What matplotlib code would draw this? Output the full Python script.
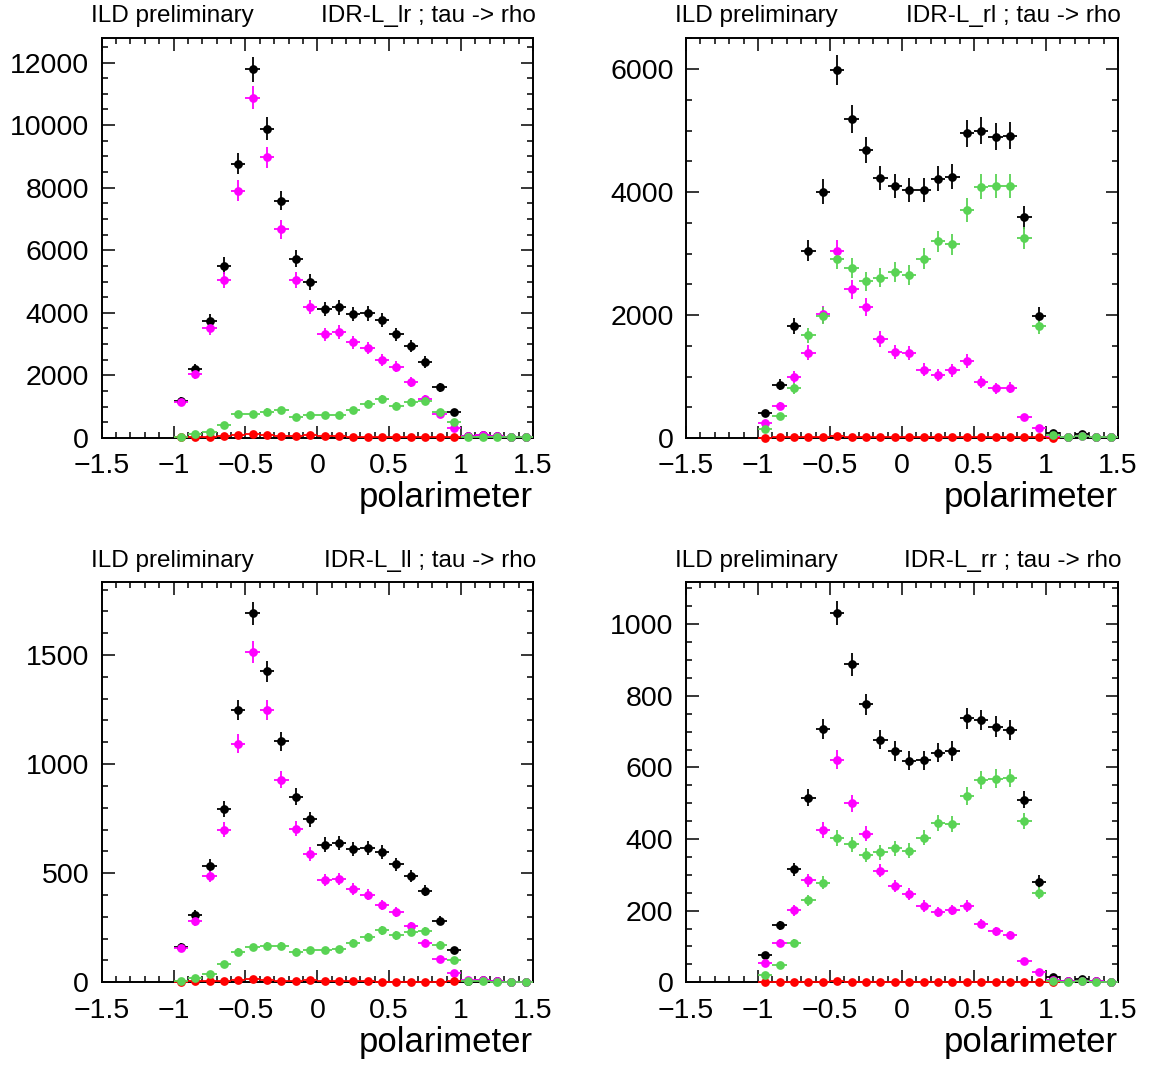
import numpy as np
import matplotlib
matplotlib.use('Agg')
import matplotlib.pyplot as plt
from matplotlib.ticker import MultipleLocator

plt.rcParams['font.family'] = ['Liberation Sans', 'DejaVu Sans']

# ---------------- data ----------------
bin_centers = [-0.95, -0.85, -0.75, -0.65, -0.55, -0.45, -0.35, -0.25, -0.15, -0.05,
               0.05, 0.15, 0.25, 0.35, 0.45, 0.55, 0.65, 0.75, 0.85, 0.95,
               1.05, 1.15, 1.25, 1.35, 1.45]
bin_half_width = 0.05

panel_names = ["IDR-L_lr ; tau -> rho", "IDR-L_rl ; tau -> rho",
               "IDR-L_ll ; tau -> rho", "IDR-L_rr ; tau -> rho"]

# total (black)
lr_total = [1190, 2210, 3740, 5510, 8770, 11780, 9890, 7590, 5730, 4980,
            4120, 4180, 3960, 3980, 3760, 3320, 2930, 2430, 1620, 830,
            50, 80, 50, 30, 20]
lr_magenta = [1150, 2060, 3510, 5040, 7910, 10880, 8970, 6670, 5040, 4190,
              3320, 3390, 3060, 2870, 2490, 2280, 1800, 1260, 780, 310,
              70, 100, 50, 30, 20]
lr_green = [40, 130, 190, 410, 770, 770, 840, 880, 680, 720,
            740, 720, 880, 1090, 1260, 1020, 1140, 1190, 820, 500,
            30, 30, 30, 20, 20]
lr_red = [20, 30, 30, 60, 100, 120, 110, 60, 50, 80,
          70, 70, 30, 30, 20, 20, 20, 20, 20, 30,
          0, 0, 0, 0, 0]

rl_total = [400, 870, 1820, 3050, 4010, 5990, 5190, 4690, 4230, 4100,
            4030, 4030, 4220, 4250, 4960, 5000, 4900, 4920, 3590, 1990,
            80, 20, 70, 10, 10]
rl_magenta = [245, 520, 1000, 1390, 2010, 3050, 2420, 2130, 1610, 1400,
              1380, 1110, 1030, 1100, 1250, 910, 810, 820, 340, 170,
              20, 20, 30, 10, 10]
rl_green = [150, 350, 810, 1670, 1990, 2910, 2760, 2550, 2610, 2700,
            2650, 2920, 3200, 3150, 3710, 4090, 4100, 4100, 3260, 1820,
            50, 20, 40, 10, 10]
rl_red = [5, 10, 10, 10, 10, 30, 10, 10, 10, 10,
          10, 10, 10, 10, 10, 10, 10, 10, 10, 10,
          5, 0, 0, 0, 0]

ll_total = [163, 310, 535, 793, 1248, 1691, 1425, 1104, 851, 747,
            631, 638, 609, 614, 597, 541, 487, 420, 283, 148,
            8, 11, 6, 3, 2]
ll_magenta = [156, 281, 489, 700, 1094, 1512, 1246, 929, 703, 587,
              469, 473, 426, 402, 354, 321, 257, 182, 107, 43,
              9, 11, 5, 2, 2]
ll_green = [6, 20, 40, 84, 141, 160, 166, 166, 141, 147,
            148, 151, 179, 208, 238, 215, 231, 235, 173, 101,
            5, 5, 3, 2, 2]
ll_red = [2, 4, 5, 7, 9, 14, 12, 8, 6, 9,
          8, 8, 5, 4, 3, 3, 3, 3, 3, 4,
          0, 0, 0, 0, 0]

rr_total = [76, 159, 315, 515, 707, 1032, 888, 776, 678, 646,
            619, 620, 641, 646, 737, 733, 714, 704, 510, 281,
            14, 4, 9, 3, 2]
rr_magenta = [54, 109, 201, 285, 425, 622, 500, 415, 312, 269,
              247, 213, 196, 202, 213, 164, 142, 132, 60, 28,
              7, 3, 5, 3, 2]
rr_green = [21, 49, 110, 229, 278, 403, 385, 356, 363, 374,
            368, 404, 444, 441, 520, 566, 569, 571, 451, 250,
            5, 2, 4, 2, 1]
rr_red = [1, 1, 1, 1, 2, 4, 2, 2, 1, 2,
          1, 1, 1, 1, 1, 1, 1, 1, 1, 1,
          1, 0, 0, 0, 0]

# per-panel event weight (error = sqrt(N * w))
event_weights = [13.2, 9.6, 1.69, 1.12]
y_max = [12800, 6516, 1833, 1117]
y_major = [2000, 2000, 500, 200]
y_minor = [500, 500, 100, 50]

series = [
    (lr_total, lr_magenta, lr_red, lr_green),
    (rl_total, rl_magenta, rl_red, rl_green),
    (ll_total, ll_magenta, ll_red, ll_green),
    (rr_total, rr_magenta, rr_red, rr_green),
]
colors = ['black', '#ff00ff', '#ff0000', '#59d354']

# ---------------- layout ----------------
W, H = 1150, 1066
fig = plt.figure(figsize=(W / 100, H / 100), dpi=100)

# axes boxes in pixels: left, top, right, bottom
boxes = [(101.7, 37.5, 533.0, 438.0), (686.0, 37.5, 1118.0, 438.0),
         (101.7, 582.3, 533.0, 982.3), (686.0, 582.3, 1118.0, 982.3)]

x = np.array(bin_centers)
for i, (l, t, r, b) in enumerate(boxes):
    ax = fig.add_axes([l / W, 1 - b / H, (r - l) / W, (b - t) / H])
    w = event_weights[i]
    for vals, c in zip(series[i], colors):
        v = np.array(vals, dtype=float)
        m = v > 0
        err = np.sqrt(v[m] * w)
        ax.errorbar(x[m], v[m], xerr=bin_half_width, yerr=err, fmt='o', color=c,
                    ms=6.3, elinewidth=1.3, capsize=0, mew=0, clip_on=False, zorder=3)
    ax.set_xlim(-1.5, 1.5)
    ax.set_ylim(0, y_max[i])
    ax.xaxis.set_major_locator(MultipleLocator(0.5))
    ax.xaxis.set_minor_locator(MultipleLocator(0.1))
    ax.yaxis.set_major_locator(MultipleLocator(y_major[i]))
    ax.yaxis.set_minor_locator(MultipleLocator(y_minor[i]))
    ax.tick_params(which='both', direction='in', top=True, right=True, width=1.1, labelsize=20.5)
    ax.tick_params(which='major', length=9)
    ax.tick_params(which='minor', length=4.5)
    ax.tick_params(axis='x', which='major', pad=11)
    ax.tick_params(axis='y', which='major', pad=9)
    for s in ax.spines.values():
        s.set_linewidth(1.4)
    ax.xaxis.set_major_formatter(matplotlib.ticker.FuncFormatter(
        lambda val, pos: ('\u2212' if val < -1e-9 else '') + ('%g' % abs(val))))
    ax.annotate('polarimeter', xy=(1.0, 0.0), xycoords='axes fraction',
                xytext=(0, -50), textcoords='offset points',
                ha='right', va='baseline', fontsize=25)
    # titles
    fig.text((l - 11) / W, 1 - (t - 15.5) / H, 'ILD preliminary', ha='left', va='baseline', fontsize=17.5)
    fig.text((r + 3) / W, 1 - (t - 15.5) / H, panel_names[i], ha='right', va='baseline', fontsize=17.5)

fig.savefig('out.png', dpi=100)
